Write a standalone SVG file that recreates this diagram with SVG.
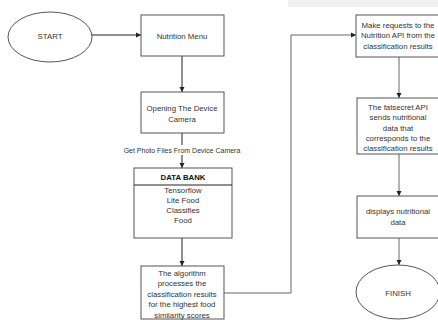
<svg xmlns="http://www.w3.org/2000/svg" width="438" height="320" viewBox="0 0 438 320">
<style>
.box{fill:#fff;stroke:#555;stroke-width:1}
.t{font-family:"Liberation Sans",Arial,sans-serif;font-size:7.8px;fill:#333;text-anchor:middle;dominant-baseline:central}
.b{font-weight:bold;fill:#111}
.s{font-size:7px}
.c{fill:none;stroke:#222;stroke-width:1}
.g{stroke:#666}
</style>
<defs>
<marker id="ah" markerWidth="6" markerHeight="6" refX="5" refY="3" orient="auto" markerUnits="userSpaceOnUse">
<path d="M0,0.5 L5,3 L0,5.5 Z" fill="#222"/>
</marker>
</defs>
<rect x="288" y="0" width="150" height="7" fill="#f0f0f0"/>
<g id="connectors">
<line class="c" x1="92" y1="35" x2="141" y2="35" marker-end="url(#ah)"/>
<line class="c" x1="182" y1="56" x2="182" y2="92" marker-end="url(#ah)"/>
<line class="c" x1="182" y1="133" x2="182" y2="168" marker-end="url(#ah)"/>
<line class="c" x1="182" y1="238" x2="182" y2="266" marker-end="url(#ah)"/>
<polyline class="c g" points="224,293 291,293 291,35 356,35" marker-end="url(#ah)"/>
<line class="c g" x1="399" y1="57" x2="399" y2="98" marker-end="url(#ah)"/>
<line class="c g" x1="399" y1="154" x2="399" y2="196" marker-end="url(#ah)"/>
<line class="c g" x1="399" y1="238" x2="399" y2="265" marker-end="url(#ah)"/>
<rect x="120" y="145" width="124" height="10" fill="#fff"/>
<text class="t s" x="182" y="150">Get Photo Files From Device Camera</text>
</g>
<g id="start">
<ellipse class="box" cx="50" cy="37" rx="42" ry="25"/>
<text class="t" x="50" y="36">START</text>
</g>
<g id="nutrition-menu">
<rect class="box" x="141" y="15" width="83" height="41"/>
<text class="t" x="182" y="36">Nutrition Menu</text>
</g>
<g id="opening-camera">
<rect class="box" x="141" y="92" width="83" height="41"/>
<text class="t" x="182" y="108">Opening The Device</text>
<text class="t" x="182" y="119">Camera</text>
</g>
<g id="data-bank">
<rect class="box" x="134" y="168" width="98" height="70"/>
<line x1="134" y1="185" x2="232" y2="185" stroke="#222"/>
<text class="t b" x="183" y="177">DATA BANK</text>
<text class="t" x="183" y="190">Tensorflow</text>
<text class="t" x="183" y="200">Lite Food</text>
<text class="t" x="183" y="210">Classifies</text>
<text class="t" x="183" y="220">Food</text>
</g>
<g id="algorithm">
<rect class="box" x="141" y="266" width="83" height="53"/>
<text class="t" x="182" y="273">The algorithm</text>
<text class="t" x="182" y="283.5">processes the</text>
<text class="t" x="182" y="294">classification results</text>
<text class="t" x="182" y="304.5">for the highest food</text>
<text class="t" x="182" y="315">similarity scores</text>
</g>
<g id="make-requests">
<rect class="box" x="356" y="15" width="84" height="42"/>
<text class="t" x="398" y="25">Make requests to the</text>
<text class="t" x="398" y="35.5">Nutrition API from the</text>
<text class="t" x="398" y="46">classification results</text>
</g>
<g id="fatsecret">
<rect class="box" x="357" y="98" width="83" height="56"/>
<text class="t" x="398" y="107">The fatsecret API</text>
<text class="t" x="398" y="117.5">sends nutritional</text>
<text class="t" x="398" y="128">data that</text>
<text class="t" x="398" y="138.5">corresponds to the</text>
<text class="t" x="398" y="148">classification results</text>
</g>
<g id="displays">
<rect class="box" x="357" y="196" width="83" height="42"/>
<text class="t" x="398" y="211">displays nutritional</text>
<text class="t" x="398" y="222">data</text>
</g>
<g id="finish">
<ellipse class="box" cx="398" cy="292" rx="42" ry="27"/>
<text class="t" x="398" y="293">FINISH</text>
</g>
</svg>
